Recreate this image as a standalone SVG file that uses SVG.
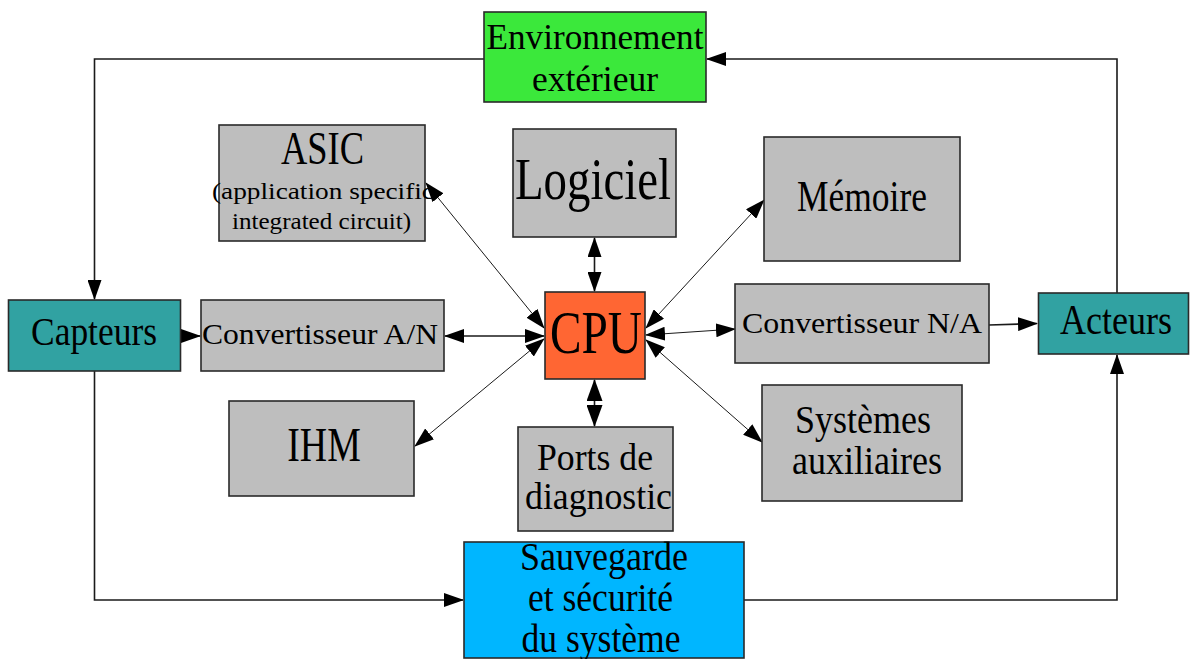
<svg xmlns="http://www.w3.org/2000/svg" width="1190" height="659" viewBox="0 0 1190 659">
<defs>
<style>
.box{stroke:#2a2a2a;stroke-width:1.6}
.gray{fill:#bebebe}
.teal{fill:#31a2a2}
.green{fill:#3be83b}
.cpu{fill:#ff6633}
.blue{fill:#00b6ff}
text{font-family:"Liberation Serif","Times New Roman",serif;fill:#000;text-anchor:middle}
.c{fill:none;stroke:#1a1a1a}
.o{stroke-width:1.6}
.d{stroke-width:1}
</style>
<marker id="a" markerUnits="userSpaceOnUse" markerWidth="20" markerHeight="14" viewBox="0 0 20 14" refX="19" refY="7" orient="auto-start-reverse">
<path d="M0,0 L20,7 L0,14 z" fill="#000"/>
</marker>
<marker id="b" markerUnits="userSpaceOnUse" markerWidth="22" markerHeight="16" viewBox="0 0 22 16" refX="21" refY="8" orient="auto-start-reverse">
<path d="M0,0 L22,8 L0,16 z" fill="#000"/>
</marker>
</defs>
<rect width="1190" height="659" fill="#fff"/>

<g id="connectors">
<path class="c o" d="M484,59 H94.5 V299" marker-end="url(#a)"/>
<path class="c o" d="M1117,293 V59 H707" marker-end="url(#a)"/>
<path class="c o" d="M94.5,371 V600 H463" marker-end="url(#a)"/>
<path class="c o" d="M744,600 H1117 V355" marker-end="url(#a)"/>
<path class="c o" d="M181,336 H200" marker-end="url(#a)"/>
<path class="c o" d="M989,325 L1037,323.5" marker-end="url(#a)"/>
<path class="c o" d="M594.5,238 V291" marker-start="url(#a)" marker-end="url(#a)"/>
<path class="c o" d="M594.5,402 V380" marker-end="url(#b)"/>
<path class="c o" d="M594.5,402 V426" marker-end="url(#b)"/>
<path class="c o" d="M445,336 H544" marker-start="url(#a)" marker-end="url(#a)"/>
<path class="c d" d="M426,183 L544,328" marker-start="url(#a)" marker-end="url(#a)"/>
<path class="c d" d="M415,446 L544,339" marker-start="url(#a)" marker-end="url(#a)"/>
<path class="c d" d="M764,200 L646,328" marker-start="url(#a)" marker-end="url(#a)"/>
<path class="c d" d="M646,335 L735,329" marker-start="url(#a)" marker-end="url(#a)"/>
<path class="c d" d="M646,340 L762,442" marker-start="url(#a)" marker-end="url(#a)"/>
</g>

<g id="environnement">
<rect class="box green" x="484" y="12" width="222" height="90"/>
<text x="595" y="49" font-size="36" textLength="217" lengthAdjust="spacingAndGlyphs">Environnement</text>
<text x="595" y="91" font-size="36" textLength="126" lengthAdjust="spacingAndGlyphs">extérieur</text>
</g>

<g id="asic">
<rect class="box gray" x="219" y="125" width="206" height="116"/>
<text x="322.5" y="164" font-size="46" textLength="83" lengthAdjust="spacingAndGlyphs">ASIC</text>
<text x="323" y="199" font-size="23" textLength="222" lengthAdjust="spacingAndGlyphs">(application specific</text>
<text x="321.5" y="229" font-size="23" textLength="179" lengthAdjust="spacingAndGlyphs">integrated circuit)</text>
</g>

<g id="logiciel">
<rect class="box gray" x="513" y="129" width="163" height="108"/>
<text x="593" y="199" font-size="60" textLength="156" lengthAdjust="spacingAndGlyphs">Logiciel</text>
</g>

<g id="memoire">
<rect class="box gray" x="764" y="137" width="196" height="124"/>
<text x="862" y="211" font-size="44" textLength="130" lengthAdjust="spacingAndGlyphs">Mémoire</text>
</g>

<g id="capteurs">
<rect class="box teal" x="8.5" y="300" width="172" height="71"/>
<text x="94" y="345" font-size="40" textLength="126" lengthAdjust="spacingAndGlyphs">Capteurs</text>
</g>

<g id="conv-an">
<rect class="box gray" x="201" y="300" width="243" height="71"/>
<text x="320" y="344" font-size="30" textLength="236" lengthAdjust="spacingAndGlyphs">Convertisseur A/N</text>
</g>

<g id="cpu">
<rect class="box cpu" x="545" y="292" width="100" height="87"/>
<text x="596" y="353" font-size="62" textLength="92" lengthAdjust="spacingAndGlyphs">CPU</text>
</g>

<g id="conv-na">
<rect class="box gray" x="735" y="284" width="254" height="79"/>
<text x="862" y="333" font-size="30" textLength="240" lengthAdjust="spacingAndGlyphs">Convertisseur N/A</text>
</g>

<g id="acteurs">
<rect class="box teal" x="1038.5" y="293" width="150" height="61"/>
<text x="1116" y="334" font-size="42" textLength="112" lengthAdjust="spacingAndGlyphs">Acteurs</text>
</g>

<g id="ihm">
<rect class="box gray" x="229" y="401" width="185" height="95"/>
<text x="324" y="461" font-size="48" textLength="73.5" lengthAdjust="spacingAndGlyphs">IHM</text>
</g>

<g id="ports">
<rect class="box gray" x="518" y="427" width="155" height="104"/>
<text x="595" y="470" font-size="37" textLength="116" lengthAdjust="spacingAndGlyphs">Ports de</text>
<text x="598.5" y="509" font-size="37" textLength="147" lengthAdjust="spacingAndGlyphs">diagnostic</text>
</g>

<g id="systemes">
<rect class="box gray" x="762" y="385" width="200" height="116"/>
<text x="863" y="433" font-size="39" textLength="136" lengthAdjust="spacingAndGlyphs">Systèmes</text>
<text x="867" y="474" font-size="39" textLength="150" lengthAdjust="spacingAndGlyphs">auxiliaires</text>
</g>

<g id="sauvegarde">
<rect class="box blue" x="464" y="542" width="280" height="116"/>
<text x="604" y="570" font-size="40" textLength="168" lengthAdjust="spacingAndGlyphs">Sauvegarde</text>
<text x="600.5" y="611" font-size="40" textLength="145" lengthAdjust="spacingAndGlyphs">et sécurité</text>
<text x="601" y="652" font-size="40" textLength="159" lengthAdjust="spacingAndGlyphs">du système</text>
</g>
</svg>
